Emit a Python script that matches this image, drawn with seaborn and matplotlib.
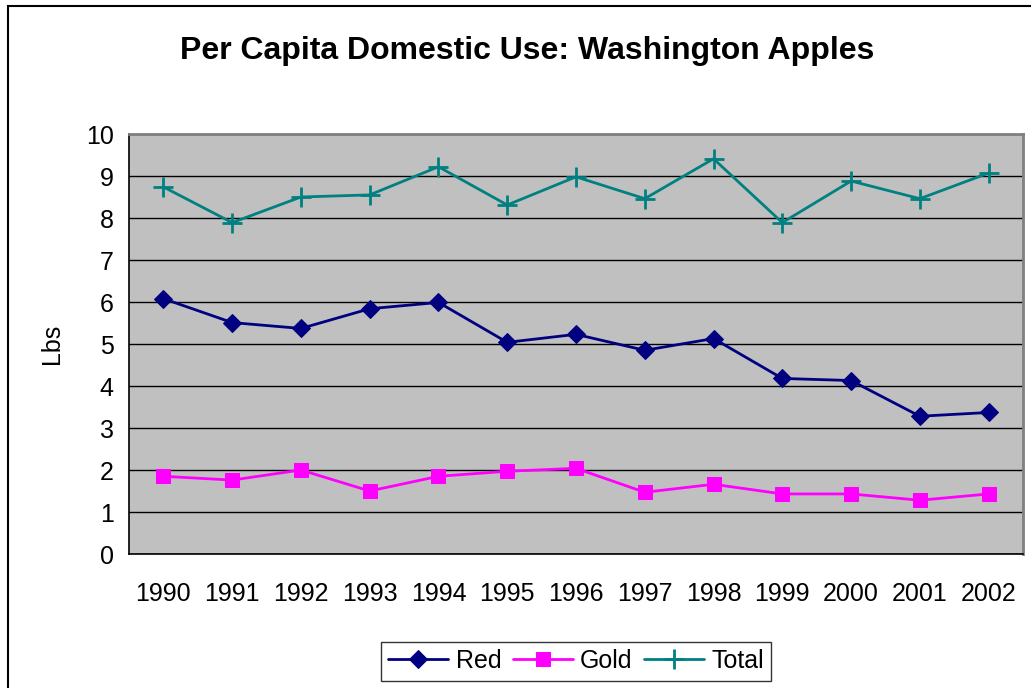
import numpy as np
import pandas as pd
import matplotlib
matplotlib.use('Agg')
import matplotlib.pyplot as plt
import seaborn as sns
from matplotlib.patches import Rectangle

# 数据
years = ['1990', '1991', '1992', '1993', '1994', '1995', '1996',
         '1997', '1998', '1999', '2000', '2001', '2002']
red = [6.08, 5.51, 5.37, 5.84, 5.99, 5.04, 5.23, 4.85, 5.13, 4.18, 4.13, 3.28, 3.37]
gold = [1.85, 1.76, 2.00, 1.50, 1.85, 1.97, 2.04, 1.47, 1.66, 1.43, 1.43, 1.28, 1.43]
total = [8.74, 7.89, 8.50, 8.55, 9.22, 8.31, 8.98, 8.46, 9.41, 7.89, 8.88, 8.46, 9.07]

sns.set_theme(style='white')
plt.rcParams['font.family'] = ['Liberation Sans', 'DejaVu Sans']
plt.rcParams['text.color'] = 'black'
plt.rcParams['axes.labelcolor'] = 'black'
plt.rcParams['xtick.color'] = 'black'
plt.rcParams['ytick.color'] = 'black'

df = pd.DataFrame({'idx': np.arange(len(years)), 'Red': red, 'Gold': gold, 'Total': total})

fig = plt.figure(figsize=(10.31, 6.88), dpi=100)
ax = fig.add_axes([129 / 1031, 1 - 554 / 688, (1023 - 129) / 1031, (554 - 134) / 688])
ax.set_facecolor('#C0C0C0')

sns.lineplot(data=df, x='idx', y='Red', ax=ax, color='#000080', marker='D',
             markersize=9, markeredgecolor='#000080', linewidth=2, label='Red')
sns.lineplot(data=df, x='idx', y='Gold', ax=ax, color='#FF00FF', marker='s',
             markersize=10, markeredgecolor='#FF00FF', linewidth=2, label='Gold')
sns.lineplot(data=df, x='idx', y='Total', ax=ax, color='#008080', marker='+',
             markersize=14, markeredgewidth=2, markeredgecolor='#008080',
             linewidth=2, label='Total')

ax.set_xlim(-0.5, len(years) - 0.5)
ax.set_ylim(0, 10)
ax.set_yticks(range(0, 11))
ax.set_xticks(range(len(years)))
ax.set_xticklabels(years)
ax.set_xticks(np.arange(-0.5, len(years)), minor=True)
ax.tick_params(axis='x', which='major', length=0, pad=20, labelsize=18)
ax.tick_params(axis='x', which='minor', length=7, color='black', width=1, direction='out')
ax.tick_params(axis='y', length=6, color='black', width=1, direction='out', labelsize=18, pad=5)
ax.yaxis.grid(True, color='black', linewidth=1)
ax.set_axisbelow(True)
ax.set_xlabel('')
ax.set_ylabel('Lbs', fontsize=18, labelpad=16)

for s in ['left', 'bottom']:
    ax.spines[s].set_color('black')
    ax.spines[s].set_linewidth(1.2)
for s in ['top', 'right']:
    ax.spines[s].set_color('#808080')
    ax.spines[s].set_linewidth(2)

fig.text(527 / 1031, 1 - 51 / 688, 'Per Capita Domestic Use: Washington Apples',
         ha='center', va='center', fontsize=23, fontweight='bold')

leg = ax.legend(loc='center', bbox_to_anchor=(576 / 1031, 1 - 661 / 688),
                bbox_transform=fig.transFigure, ncol=3, fontsize=18,
                frameon=True, fancybox=False, edgecolor='black',
                handlelength=2.4, handletextpad=0.3, columnspacing=0.45,
                borderpad=0.3)
leg.get_frame().set_linewidth(1)

fig.patches.append(Rectangle((8 / 1031, -0.1), 1.2, 1 - 6 / 688 + 0.1,
                             transform=fig.transFigure, fill=False,
                             edgecolor='black', linewidth=1.5))

fig.savefig('out.png', dpi=100)
